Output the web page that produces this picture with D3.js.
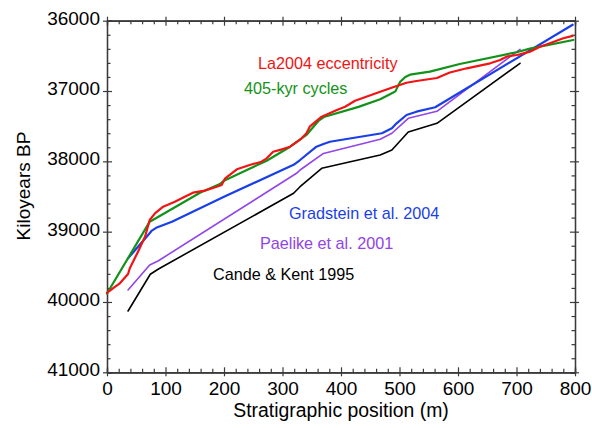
<!DOCTYPE html>
<html>
<head>
<meta charset="utf-8">
<script src="https://cdn.jsdelivr.net/npm/d3@7/dist/d3.min.js"></script>
<style>
  html, body { margin: 0; padding: 0; background: #fff; }
  svg { display: block; font-family: "Liberation Sans", Arial, sans-serif; }
</style>
</head>
<body>
<svg id="chart" width="592" height="428"></svg>
<script>
// Age models: [stratigraphic position (m), age (kyr BP)]
const la2004 = [
  [0, 39870], [14, 39783], [22, 39734], [36, 39602], [39, 39521], [53, 39285],
  [65, 39072], [73, 38834], [82, 38739], [96, 38645], [116, 38574], [133, 38503],
  [147, 38446], [167, 38417], [185, 38369], [196, 38336], [202, 38241], [222, 38113],
  [244, 38052], [264, 38005], [273, 37957], [284, 37863], [299, 37829], [313, 37792],
  [330, 37692], [341, 37601], [347, 37502], [367, 37365], [393, 37270], [407, 37223],
  [424, 37138], [467, 37010], [489, 36947], [512, 36882], [529, 36857], [564, 36815],
  [586, 36737], [615, 36677], [655, 36606], [672, 36559], [683, 36512], [700, 36488],
  [706, 36478], [723, 36440], [740, 36370], [757, 36321], [780, 36250], [796, 36215]
];
const cycles405 = [
  [0, 39880], [73, 38858], [88, 38787], [159, 38446], [193, 38322], [200, 38275],
  [239, 38123], [273, 37991], [313, 37792], [341, 37625], [362, 37420], [372, 37365],
  [430, 37225], [467, 37118], [487, 37032], [493, 37005], [501, 36870],
  [510, 36800], [518, 36768], [552, 36725], [603, 36616], [700, 36448], [723, 36398],
  [797, 36274]
];
const gradstein2004 = [
  [36, 39380], [53, 39214], [70, 39050], [76, 38990], [84, 38945], [111, 38858],
  [200, 38503], [319, 38050], [330, 37981], [358, 37792], [370, 37753], [381, 37721],
  [470, 37601], [487, 37530], [495, 37459], [512, 37341], [529, 37294], [561, 37231],
  [796, 36057]
];
const paelike2001 = [
  [36, 39829], [73, 39474], [88, 39413], [324, 38170], [330, 38123], [370, 37888],
  [467, 37686], [487, 37601], [515, 37388], [564, 37288], [706, 36407]
];
const candeKent1995 = [
  [36, 40128], [74, 39606], [88, 39531], [319, 38454], [330, 38361], [367, 38099],
  [467, 37910], [487, 37839], [515, 37583], [564, 37459], [706, 36606]
];

const xMajorTicks = [0, 100, 200, 300, 400, 500, 600, 700, 800];
const yMajorTicks = [36000, 37000, 38000, 39000, 40000, 41000];

const series = [
  { data: candeKent1995, color: "#000000", width: 1.6 },
  { data: paelike2001, color: "#9244e6", width: 1.6 },
  { data: gradstein2004, color: "#1a3fe6", width: 2.2 },
  { data: cycles405, color: "#13921a", width: 2.2 },
  { data: la2004, color: "#f01414", width: 2.2 }
];

const labels = [
  { text: "La2004 eccentricity", color: "#f01414", x: 258, y: 69 },
  { text: "405-kyr cycles", color: "#13921a", x: 244, y: 94 },
  { text: "Gradstein et al. 2004", color: "#1a3fe6", x: 289, y: 219 },
  { text: "Paelike et al. 2001", color: "#9244e6", x: 260, y: 249 },
  { text: "Cande & Kent 1995", color: "#000000", x: 213, y: 280 }
];

const svg = d3.select("#chart");
const L = 107, R = 575, T = 20.7, B = 372.3;

const x = d3.scaleLinear().domain([0, 800]).range([L, R]);
const y = d3.scaleLinear().domain([36000, 41000]).range([T, B]);

const xMinor = d3.range(0, 801, 20).filter(v => v % 100 !== 0);
const yMinor = d3.range(36000, 41001, 200).filter(v => v % 1000 !== 0);

const axisColor = "#3a3a3a";
function styleAxis(g) {
  g.select(".domain").attr("stroke", axisColor).attr("stroke-width", 1.2);
  g.selectAll(".tick line").attr("stroke", axisColor).attr("stroke-width", 1.2);
}

// Frame ticks: minor ticks inside, major ticks crossing the frame
function frameAxis(axisFn, scale, pos, transform, labelled) {
  const gMinor = svg.append("g").attr("transform", transform)
    .call(axisFn(scale).tickValues(pos.minor).tickSize(-3.5).tickFormat(""));
  styleAxis(gMinor);
  const gIn = svg.append("g").attr("transform", transform)
    .call(axisFn(scale).tickValues(pos.major).tickSize(-5).tickFormat(""));
  styleAxis(gIn);
  const gOut = svg.append("g").attr("transform", transform)
    .call(axisFn(scale).tickValues(pos.major).tickSize(4).tickSizeOuter(0)
      .tickFormat(labelled ? d3.format("d") : ""));
  styleAxis(gOut);
  return gOut;
}

const xb = frameAxis(d3.axisBottom, x, { major: xMajorTicks, minor: xMinor }, `translate(0,${B})`, true);
xb.selectAll("text").attr("font-size", 19).attr("fill", "#000").attr("y", 9.5).attr("dy", "0.71em");
frameAxis(d3.axisTop, x, { major: xMajorTicks, minor: xMinor }, `translate(0,${T})`, false);

const yl = frameAxis(d3.axisLeft, y, { major: yMajorTicks, minor: yMinor }, `translate(${L},0)`, true);
yl.selectAll("text").attr("font-size", 19).attr("fill", "#000").attr("x", -7).attr("dy", "0.19em");
frameAxis(d3.axisRight, y, { major: yMajorTicks, minor: yMinor }, `translate(${R},0)`, false);

// Curves
const line = d3.line().x(d => x(d[0])).y(d => y(d[1]));
svg.append("g").selectAll("path").data(series).join("path")
  .attr("d", d => line(d.data))
  .attr("fill", "none")
  .attr("stroke", d => d.color)
  .attr("stroke-width", d => d.width)
  .attr("stroke-linejoin", "round")
  .attr("stroke-linecap", "round");

// Curve labels
svg.append("g").selectAll("text").data(labels).join("text")
  .attr("x", d => d.x).attr("y", d => d.y)
  .attr("font-size", 16.2)
  .attr("fill", d => d.color)
  .text(d => d.text);

// Axis titles
svg.append("text")
  .attr("x", (L + R) / 2).attr("y", 417)
  .attr("text-anchor", "middle").attr("font-size", 19.4)
  .text("Stratigraphic position (m)");

svg.append("text")
  .attr("transform", "translate(29.5,186) rotate(-90)")
  .attr("text-anchor", "middle").attr("font-size", 19)
  .text("Kiloyears BP");
</script>
</body>
</html>
